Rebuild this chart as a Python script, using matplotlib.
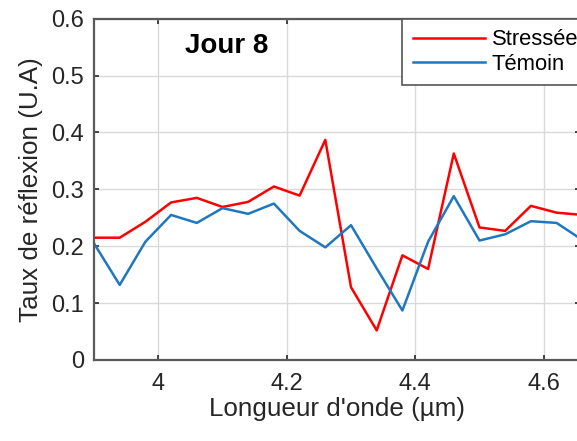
import matplotlib
matplotlib.use("Agg")
import matplotlib.pyplot as plt

# wavelength (µm) and reflectance readings, day 8
wavelength = [3.90, 3.94, 3.98, 4.02, 4.06, 4.10, 4.14, 4.18, 4.22, 4.26,
              4.30, 4.34, 4.38, 4.42, 4.46, 4.50, 4.54, 4.58, 4.62, 4.66]
stressee = [0.215, 0.215, 0.243, 0.277, 0.285, 0.269, 0.278, 0.305, 0.289, 0.387,
            0.128, 0.052, 0.184, 0.160, 0.363, 0.233, 0.227, 0.271, 0.259, 0.255]
temoin = [0.205, 0.132, 0.208, 0.255, 0.241, 0.267, 0.257, 0.275, 0.227, 0.198,
          0.237, 0.161, 0.087, 0.208, 0.288, 0.210, 0.221, 0.244, 0.241, 0.211]

xticks = [4.0, 4.2, 4.4, 4.6]
xtick_labels = ["4", "4.2", "4.4", "4.6"]
yticks = [0, 0.1, 0.2, 0.3, 0.4, 0.5, 0.6]
ytick_labels = ["0", "0.1", "0.2", "0.3", "0.4", "0.5", "0.6"]

plt.rcParams["font.family"] = ["Liberation Sans", "DejaVu Sans"]

fig = plt.figure(figsize=(5.77, 4.41), dpi=100)
# the original image is cropped on the right, so the axes run to the edge
ax = fig.add_axes([94 / 577, 81 / 441, 486 / 577, 341.3 / 441])

ax.plot(wavelength, stressee, color="#ff0000", lw=1.8, label="Stressée")
ax.plot(wavelength, temoin, color="#1f77c0", lw=1.8, label="Témoin")

ax.set_xlim(3.9, 3.9 + 486 / 642.5)
ax.set_ylim(0, 0.6)
ax.set_xticks(xticks)
ax.set_xticklabels(xtick_labels)
ax.set_yticks(yticks)
ax.set_yticklabels(ytick_labels)

ax.grid(True, color="#dadada", lw=1.0)
ax.set_axisbelow(True)
for side in ["left", "bottom", "top", "right"]:
    ax.spines[side].set_color("#5a5a5a")
    ax.spines[side].set_linewidth(1.6)
ax.tick_params(direction="in", top=True, right=True, length=3.5, width=1.2,
               colors="#262626", labelsize=17)
ax.tick_params(axis="x", pad=9.5)
ax.tick_params(axis="y", pad=7)

ax.set_xlabel("Longueur d'onde (µm)", fontsize=18.7, color="#262626", labelpad=1)
ax.set_ylabel("Taux de réflexion (U.A)", fontsize=18.7, color="#262626", labelpad=6)

ax.text(4.0416, 0.552, "Jour 8", fontsize=20, fontweight="bold", va="center")

leg = ax.legend(loc="upper left", bbox_to_anchor=((402 - 94) / 486, 1.0),
                fontsize=15.8, fancybox=False, framealpha=1, borderaxespad=0,
                handlelength=3.3, handletextpad=0.3, labelspacing=0.15,
                borderpad=0.48)
leg.get_frame().set_edgecolor("#555555")
leg.get_frame().set_linewidth(1.2)

fig.savefig("out.png", dpi=100)
